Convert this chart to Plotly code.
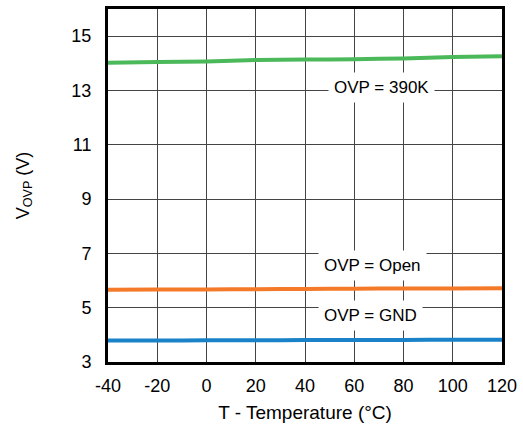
import plotly.graph_objects as go

# Temperature sweep (°C)
temperature = [-40, -20, 0, 20, 40, 60, 80, 100, 120]

# OVP threshold voltage (V) for each OVP pin configuration
vovp_390k = [14.02, 14.05, 14.07, 14.12, 14.14, 14.15, 14.18, 14.23, 14.26]
vovp_open = [5.66, 5.67, 5.67, 5.68, 5.69, 5.70, 5.71, 5.71, 5.72]
vovp_gnd = [3.79, 3.79, 3.80, 3.80, 3.81, 3.81, 3.81, 3.82, 3.82]

x_ticks = [-40, -20, 0, 20, 40, 60, 80, 100, 120]
x_tick_text = ["-40", "-20", "0", "20", "40", "60", "80", "100", "120"]
y_ticks = [3, 5, 7, 9, 11, 13, 15]

# Curve labels: text, x, y
labels = [
    ("OVP = 390K", 70.9, 13.12),
    ("OVP = Open", 67.5, 6.57),
    ("OVP = GND", 66.4, 4.72),
]

FONT = "Liberation Sans, Arial, sans-serif"

fig = go.Figure()
for vals, color in [(vovp_390k, "#4BB85A"), (vovp_open, "#F47A2A"), (vovp_gnd, "#1A82C8")]:
    fig.add_trace(go.Scatter(
        x=temperature, y=vals, mode="lines",
        line=dict(color=color, width=4, shape="spline", smoothing=0.6),
        showlegend=False, hoverinfo="skip",
    ))

for text, x, y in labels:
    fig.add_annotation(
        x=x, y=y, text=text, showarrow=False,
        font=dict(family=FONT, size=17, color="black"),
        bgcolor="white", borderpad=5,
    )

fig.update_layout(
    width=523, height=428,
    margin=dict(l=108, r=21, t=6, b=66),
    paper_bgcolor="white", plot_bgcolor="white",
    font=dict(family=FONT, size=18, color="black"),
)
fig.update_xaxes(
    range=[-40, 120], tickvals=x_ticks, ticktext=x_tick_text,
    showgrid=True, gridcolor="#444444", gridwidth=1,
    showline=True, linecolor="black", linewidth=3, mirror=True,
    ticks="", ticklabelstandoff=5, zeroline=False,
    title=dict(text="T - Temperature (°C)", font=dict(size=19), standoff=12),
)
fig.update_yaxes(
    range=[3, 16], tickvals=y_ticks,
    showgrid=True, gridcolor="#444444", gridwidth=1,
    showline=True, linecolor="black", linewidth=3, mirror=True,
    ticks="", ticklabelstandoff=10, zeroline=False,
    title=dict(text="V<sub>OVP</sub> (V)", font=dict(size=18), standoff=38),
)

fig.write_html("out.html")
